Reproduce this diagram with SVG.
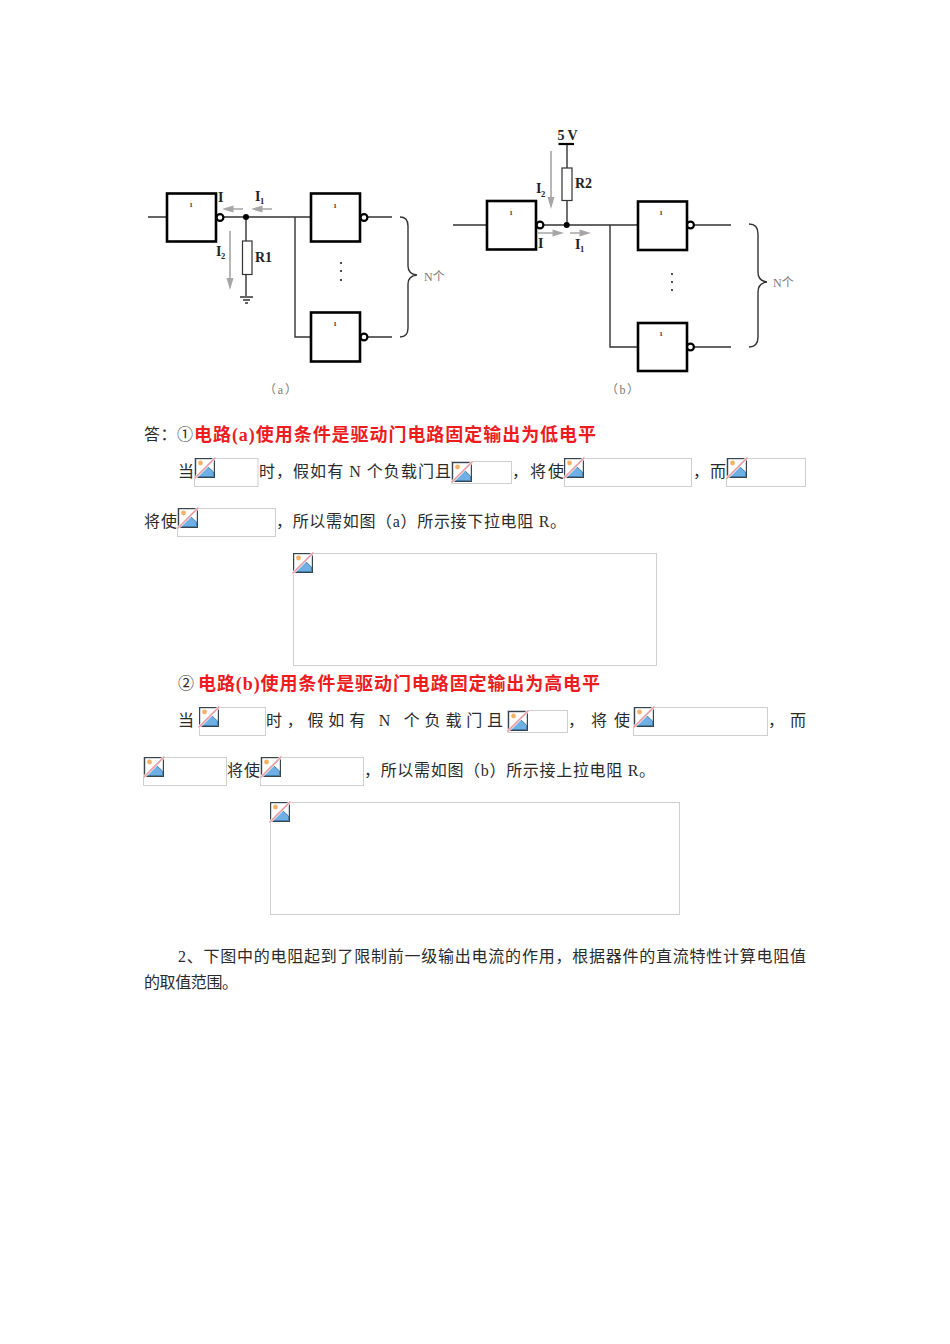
<svg xmlns="http://www.w3.org/2000/svg" xmlns:xlink="http://www.w3.org/1999/xlink" width="950" height="1344" viewBox="0 0 950 1344">
<style>
text{font-family:"Liberation Serif","Noto Sans CJK SC",serif}
.t{font-size:16px;fill:#2a2a2a}
.r{font-size:18px;fill:#ec1c1f;font-weight:bold}
.box{fill:none;stroke:#cfcfcf;stroke-width:1}
.g{fill:#fff;stroke:#000;stroke-width:2.6}
.b{fill:#fff;stroke:#000;stroke-width:2.2}
.w{fill:none;stroke:#333;stroke-width:1.4}
.res{fill:#fff;stroke:#333;stroke-width:1.2}
.l{font-size:14px;font-weight:bold;fill:#222}
.s{font-size:8.500px;font-weight:bold;fill:#222}
.o{font-size:7px;font-weight:bold;fill:#333;text-anchor:middle}
.c{font-size:12px;fill:#777}
.ar{stroke:#a6a6a6;stroke-width:1.600;fill:none}
.ah{fill:#a6a6a6}
</style>
<defs>
<g id="icon">
<rect x="0.6" y="0.6" width="18.800" height="18.800" fill="#fff" stroke="#36444f" stroke-width="1.200"/>
<path d="M1.500 18.500 L12.500 8.500 L18.500 14 V18.500 Z" fill="#6fb0e4" stroke="#2f6f9f" stroke-width="0.800"/>
<circle cx="5.500" cy="5" r="2.400" fill="#f4b266"/>
<path d="M-0.500 20.500 L20.500 -0.500" stroke="#fff" stroke-width="2.800"/>
<path d="M-0.500 20.500 L20.500 -0.500" stroke="#e59a9f" stroke-width="1.700"/>
</g>
</defs>
<rect width="950" height="1344" fill="#fff"/>

<g id="connectors">
<path class="w" d="M148 217H167M223 217H310M295 217V337H310M367 217H392M367 337H392"/>
<path class="w" d="M246 217V296M240 297H253M243 300H250M245 303H248"/>
<path class="w" d="M400 217Q408 217 408 226V266Q408 274 417 275Q408 276 408 284V328Q408 337 400 337"/>
<path class="w" d="M453 225H486M543 225H637M610 225V347H637M694 225H731M694 347H731"/>
<path class="w" d="M567 145V225"/>
<path class="w" d="M749 224Q758 224 758 234V272Q758 281 767 282Q758 283 758 292V337Q758 347 749 347"/>
<path d="M558.500 144H574" stroke="#000" stroke-width="2.200" fill="none"/>
<path class="ar" d="M232 209H243M258 209H272M230 231V280"/>
<path class="ah" d="M222 209L233.500 205.500V212.500ZM251 209L262.500 205.500V212.500ZM230 290L226.500 278H233.500Z"/>
<path class="ar" d="M538 233H554M570 233H582M551 151V198"/>
<path class="ah" d="M564 233L552.500 229.500V236.500ZM591 233L579.500 229.500V236.500ZM551 209L547.500 197H554.500Z"/>
</g>

<g id="gate-a1"><rect class="g" x="167" y="193.500" width="49" height="48"/><circle class="b" cx="220" cy="217.500" r="3.400"/><text class="o" x="191" y="207">1</text></g>
<g id="gate-a2"><rect class="g" x="311" y="193.500" width="49" height="48"/><circle class="b" cx="364" cy="217.500" r="3.400"/><text class="o" x="335" y="208">1</text></g>
<g id="gate-a3"><rect class="g" x="311" y="312.500" width="49" height="49"/><circle class="b" cx="364" cy="337" r="3.400"/><text class="o" x="335" y="326">1</text></g>
<g id="res-r1"><rect class="res" x="242.500" y="241" width="9.500" height="33.500"/><text class="l" x="255" y="262" textLength="17">R1</text></g>
<g id="junction-a"><circle cx="246" cy="217" r="3" fill="#000"/></g>
<g id="labels-a">
<text class="l" x="218" y="202">I</text>
<text class="l" x="255" y="201">I</text><text class="s" x="260" y="204">1</text>
<text class="l" x="216" y="256">I</text><text class="s" x="221" y="259">2</text>
<circle cx="341" cy="263" r="1.100" fill="#222"/><circle cx="341" cy="271" r="1.100" fill="#222"/><circle cx="341" cy="280" r="1.100" fill="#222"/>
<text class="c" x="424" y="281">N个</text>
<text class="c" x="264" y="394" textLength="33">（ a ）</text>
</g>

<g id="gate-b1"><rect class="g" x="487" y="201" width="49" height="48.500"/><circle class="b" cx="540" cy="225" r="3.400"/><text class="o" x="511" y="215">1</text></g>
<g id="gate-b2"><rect class="g" x="638" y="201.500" width="49" height="48.500"/><circle class="b" cx="690.500" cy="225" r="3.400"/><text class="o" x="661" y="215">1</text></g>
<g id="gate-b3"><rect class="g" x="638" y="323" width="49" height="48"/><circle class="b" cx="690.500" cy="347" r="3.400"/><text class="o" x="661" y="336">1</text></g>
<g id="res-r2"><rect class="res" x="562" y="168" width="10" height="32.500"/><text class="l" x="575" y="188" textLength="17">R2</text></g>
<g id="junction-b"><circle cx="566.700" cy="225" r="3" fill="#000"/></g>
<g id="labels-b">
<text class="l" x="557.500" y="140" textLength="20">5 V</text>
<text class="l" x="536" y="193">I</text><text class="s" x="541" y="197">2</text>
<text class="l" x="538" y="248">I</text>
<text class="l" x="575" y="249">I</text><text class="s" x="580" y="252">1</text>
<circle cx="672" cy="274" r="1.100" fill="#222"/><circle cx="672" cy="282" r="1.100" fill="#222"/><circle cx="672" cy="290" r="1.100" fill="#222"/>
<text class="c" x="773" y="287">N个</text>
<text class="c" x="606" y="394" textLength="33">（ b ）</text>
</g>

<g id="para-1">
<text class="t" x="144" y="440" textLength="49">答：①</text>
<text class="r" x="194" y="441" textLength="402">电路(a)使用条件是驱动门电路固定输出为低电平</text>
<text class="t" x="178" y="477">当</text>
<text class="t" x="259" y="477" textLength="192">时，假如有 N 个负载门且</text>
<text class="t" x="512" y="477" textLength="52">，将使</text>
<text class="t" x="693" y="477" textLength="33">，而</text>
<text class="t" x="144" y="527" textLength="33">将使</text>
<text class="t" x="276" y="527" textLength="290">，所以需如图（a）所示接下拉电阻 R。</text>
</g>
<g id="para-2">
<text class="t" x="178" y="689" textLength="15">②</text>
<text class="r" x="198" y="690" textLength="402">电路(b)使用条件是驱动门电路固定输出为高电平</text>
<text class="t" x="178" y="726">当</text>
<text class="t" x="266" y="726" textLength="237">时，假如有 N 个负载门且</text>
<text class="t" x="568" y="726" textLength="62">，将使</text>
<text class="t" x="768" y="726">，</text>
<text class="t" x="790" y="726">而</text>
<text class="t" x="227" y="776" textLength="33">将使</text>
<text class="t" x="364" y="776" textLength="291">，所以需如图（b）所示接上拉电阻 R。</text>
</g>
<g id="para-3">
<text class="t" x="178" y="962" textLength="628">2、下图中的电阻起到了限制前一级输出电流的作用，根据器件的直流特性计算电阻值</text>
<text class="t" x="144" y="988" textLength="94">的取值范围。</text>
</g>

<g id="placeholders">
<rect class="box" x="194.500" y="458.500" width="63.500" height="28"/><use xlink:href="#icon" href="#icon" x="195" y="458"/>
<rect class="box" x="451.500" y="461.500" width="60" height="22"/><use xlink:href="#icon" href="#icon" x="452" y="462"/>
<rect class="box" x="564.500" y="458.500" width="127" height="28"/><use xlink:href="#icon" href="#icon" x="564" y="458"/>
<rect class="box" x="726.500" y="458.500" width="79" height="28"/><use xlink:href="#icon" href="#icon" x="727" y="458"/>
<rect class="box" x="177.500" y="508.500" width="98" height="28"/><use xlink:href="#icon" href="#icon" x="178" y="508"/>
<rect class="box" x="293.500" y="553.500" width="363" height="112"/><use xlink:href="#icon" href="#icon" x="293" y="553"/>
<rect class="box" x="199.500" y="707.500" width="66" height="28"/><use xlink:href="#icon" href="#icon" x="199" y="707"/>
<rect class="box" x="507.500" y="710.500" width="60" height="22"/><use xlink:href="#icon" href="#icon" x="508" y="711"/>
<rect class="box" x="633.500" y="707.500" width="134" height="28"/><use xlink:href="#icon" href="#icon" x="634" y="707"/>
<rect class="box" x="143.500" y="757.500" width="83" height="28"/><use xlink:href="#icon" href="#icon" x="144" y="757"/>
<rect class="box" x="260.500" y="757.500" width="103" height="28"/><use xlink:href="#icon" href="#icon" x="261" y="757"/>
<rect class="box" x="270.500" y="802.500" width="409" height="112"/><use xlink:href="#icon" href="#icon" x="270" y="802"/>
</g>
</svg>
